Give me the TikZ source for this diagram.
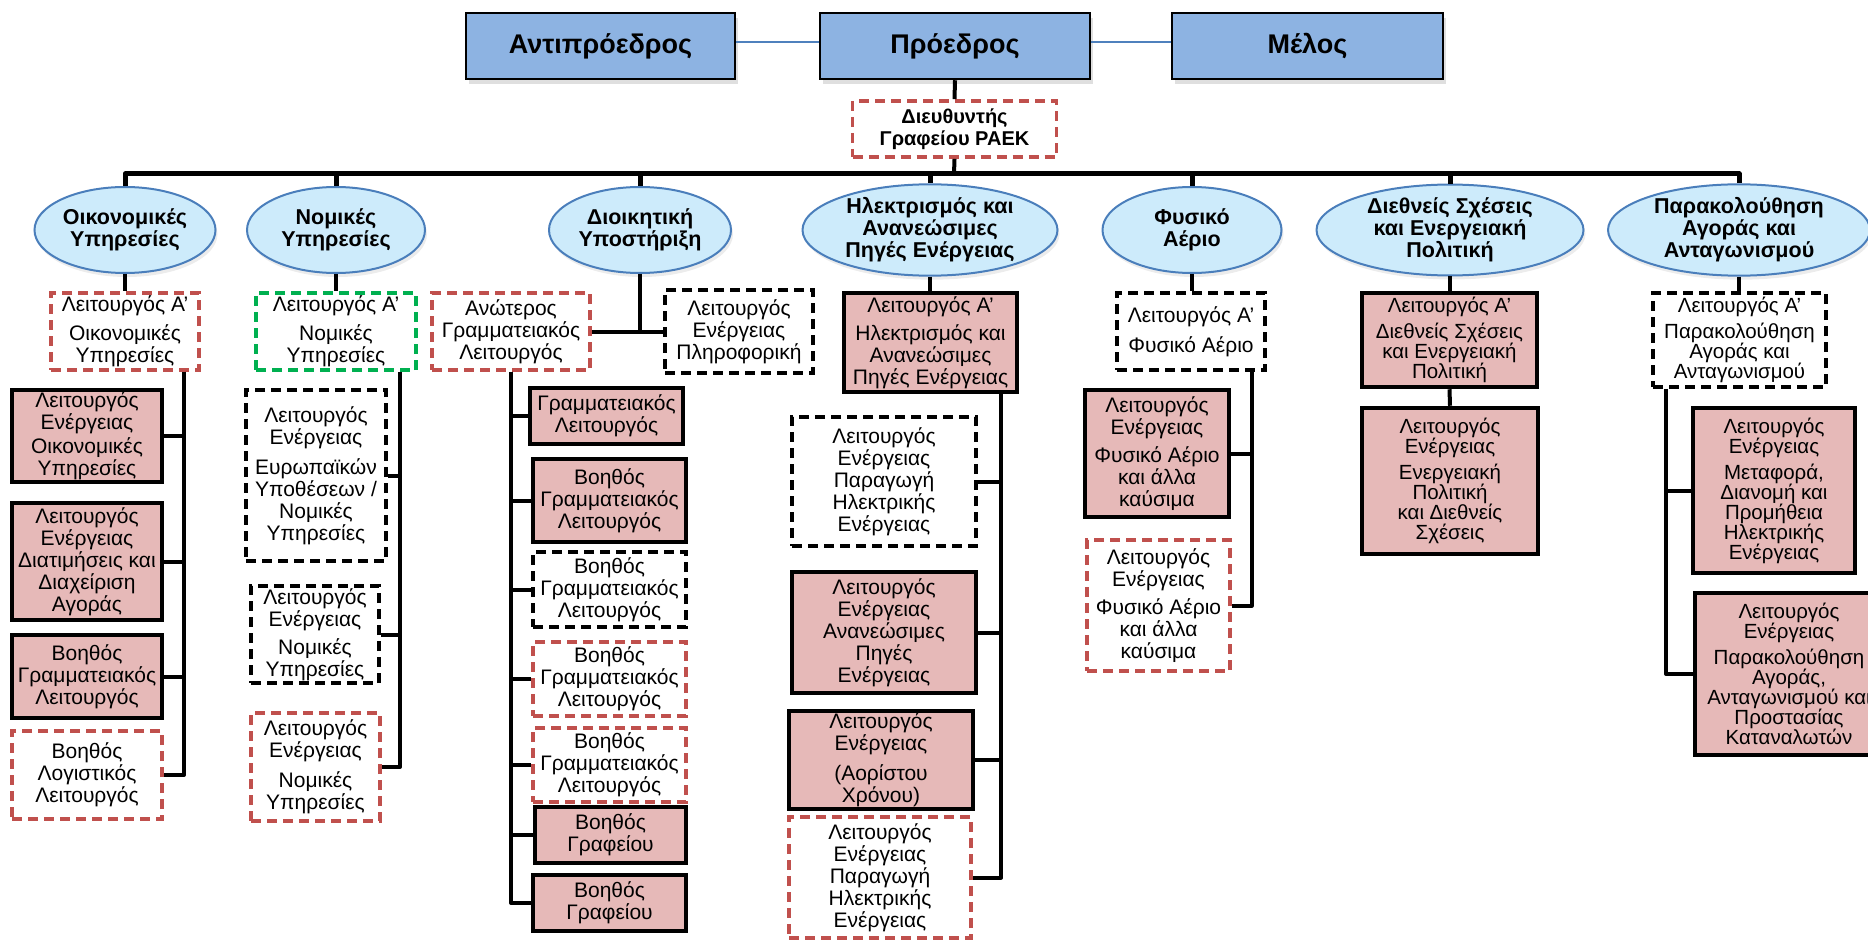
\documentclass[tikz,border=0pt]{standalone}
\usepackage{fontspec}
\setmainfont{Liberation Sans}
\usetikzlibrary{shapes.geometric,shadows}

\definecolor{headblue}{HTML}{8DB3E2}
\definecolor{ovalfill}{HTML}{CDEBFB}
\definecolor{ovalline}{HTML}{4A7EBB}
\definecolor{rosefill}{HTML}{E6B9B8}
\definecolor{dashred}{HTML}{C0504D}
\definecolor{dashgreen}{HTML}{00B050}
\definecolor{linkblue}{HTML}{4F81BD}

\begin{document}
\begin{tikzpicture}[x=1pt, y=-1pt,
  every node/.style = {align=center, inner sep=0pt, font=\fontsize{21}{22}\selectfont},
  wh/.style 2 args = {minimum width=#1pt, minimum height=#2pt},
  board/.style = {rectangle, draw, fill=headblue, line width=2.5pt,
    font=\fontsize{27}{30}\selectfont\bfseries,
    drop shadow={opacity=0.25, shadow xshift=3pt, shadow yshift=-5pt}},
  unit/.style = {ellipse, draw=ovalline, fill=ovalfill, line width=2pt,
    font=\fontsize{21.5}{22}\selectfont\bfseries,
    drop shadow={opacity=0.15, shadow xshift=2pt, shadow yshift=-4pt}},
  staffed/.style = {rectangle, draw, fill=rosefill, line width=4.5pt},
  vacant/.style = {rectangle, draw, line width=3.8pt, dash pattern=on 10pt off 6pt},
  planned/.style = {vacant, draw=dashred},
  legal/.style = {vacant, draw=dashgreen},
  arial/.style = {font=\fontsize{20.5}{20}\selectfont},
  link/.style = {line width=4pt, line join=round},
  boardlink/.style = {line width=1.5pt, draw=linkblue},
  ]
  \useasboundingbox (0,0) rectangle (1868,941);

  % board
  \node[board, wh={269}{66}] (antip) at (600.5,46) {Αντιπρόεδρος};
  \node[board, wh={270}{66}] (proed) at (955,46) {Πρόεδρος};
  \node[board, wh={271}{66}] (melos) at (1307.5,46) {Μέλος};
  \node[planned, wh={204}{56}, font=\fontsize{20}{22}\selectfont\bfseries]
    (director) at (954.5,129) {Διευθυντής\\Γραφείου ΡΑΕΚ};
  \coordinate (bus) at (954,174);

  % departments
  \node[unit, wh={181}{86}] (oik) at (125,230) {Οικονομικές\\Υπηρεσίες};
  \node[unit, wh={178}{86}] (nom) at (336,230) {Νομικές\\Υπηρεσίες};
  \node[unit, wh={182}{86}] (dioik) at (640,230) {Διοικητική\\Υποστήριξη};
  \node[unit, wh={255}{86}] (ilek) at (930,230) {Ηλεκτρισμός και\\Ανανεώσιμες\\Πηγές Ενέργειας};
  \node[unit, wh={179}{86}] (fys) at (1192,230) {Φυσικό\\Αέριο};
  \node[unit, wh={267}{86}] (dieth) at (1450,230) {Διεθνείς Σχέσεις\\και Ενεργειακή\\Πολιτική};
  \node[unit, wh={262}{86}] (parak) at (1739,230) {Παρακολούθηση\\Αγοράς και\\Ανταγωνισμού};

  % financial services
  \node[planned, wh={148}{77}] (oikA) at (125,331.5) {Λειτουργός Α’\\[7pt]Οικονομικές\\Υπηρεσίες};
  \node[staffed, wh={150}{92}] (oik1) at (87,436) {Λειτουργός\\Ενέργειας\\[2pt]Οικονομικές\\Υπηρεσίες};
  \node[staffed, wh={150}{117}] (oik2) at (87,561.5) {Λειτουργός\\Ενέργειας\\Διατιμήσεις και\\Διαχείριση\\Αγοράς};
  \node[staffed, wh={150}{83}] (oik3) at (87,676.5) {Βοηθός\\Γραμματειακός\\Λειτουργός};
  \node[planned, wh={150}{88}] (oik4) at (87,775) {Βοηθός\\Λογιστικός\\Λειτουργός};

  % legal services
  \node[legal, wh={160}{77}] (nomA) at (336,331.5) {Λειτουργός Α’\\[7pt]Νομικές\\Υπηρεσίες};
  \node[vacant, wh={140}{171}] (nom1) at (316,475.5) {Λειτουργός\\Ενέργειας\\[8pt]Ευρωπαϊκών\\Υποθέσεων /\\Νομικές\\Υπηρεσίες};
  \node[vacant, wh={128}{97}] (nom2) at (315,634.5) {Λειτουργός\\Ενέργειας\\[6pt]Νομικές\\Υπηρεσίες};
  \node[planned, wh={129}{108}] (nom3) at (315.5,767) {Λειτουργός\\Ενέργειας\\[8pt]Νομικές\\Υπηρεσίες};

  % administration
  \node[planned, wh={158}{77}] (anoteros) at (511,331.5) {Ανώτερος\\Γραμματειακός\\Λειτουργός};
  \node[vacant, wh={148}{83}] (plir) at (739,331.5) {Λειτουργός\\Ενέργειας\\Πληροφορική};
  \node[staffed, wh={153}{56}] (dio1) at (606.5,416) {Γραμματειακός\\Λειτουργός};
  \node[staffed, wh={153}{83}] (dio2) at (609.5,500.5) {Βοηθός\\Γραμματειακός\\Λειτουργός};
  \node[vacant, wh={153}{75}] (dio3) at (609.5,589.5) {Βοηθός\\Γραμματειακός\\Λειτουργός};
  \node[planned, wh={153}{74}] (dio4) at (609.5,679) {Βοηθός\\Γραμματειακός\\Λειτουργός};
  \node[planned, wh={153}{74}] (dio5) at (609.5,765) {Βοηθός\\Γραμματειακός\\Λειτουργός};
  \node[staffed, wh={151}{56}] (dio6) at (610.5,835) {Βοηθός\\Γραφείου};
  \node[staffed, wh={153}{56}] (dio7) at (609.5,903) {Βοηθός\\Γραφείου};

  % electricity and renewables
  \node[staffed, wh={173}{99}] (ilekA) at (930.5,342.5) {Λειτουργός Α’\\[6pt]Ηλεκτρισμός και\\Ανανεώσιμες\\Πηγές Ενέργειας};
  \node[vacant, wh={184}{129}] (ilek1) at (884,481.5) {Λειτουργός\\Ενέργειας\\Παραγωγή\\Ηλεκτρικής\\Ενέργειας};
  \node[staffed, wh={184}{121}] (ilek2) at (884,632.5) {Λειτουργός\\Ενέργειας\\Ανανεώσιμες\\Πηγές\\Ενέργειας};
  \node[staffed, wh={184}{98}] (ilek3) at (881,760) {Λειτουργός\\Ενέργειας\\[8pt](Αορίστου\\Χρόνου)};
  \node[planned, wh={182}{121}] (ilek4) at (880,877.5) {Λειτουργός\\Ενέργειας\\Παραγωγή\\Ηλεκτρικής\\Ενέργειας};

  % natural gas
  \node[vacant, wh={148}{77}] (fysA) at (1191,331.5) {Λειτουργός Α’\\[8pt]Φυσικό Αέριο};
  \node[staffed, wh={144}{127}] (fys1) at (1157,453.5) {Λειτουργός\\Ενέργειας\\[6pt]Φυσικό Αέριο\\και άλλα\\καύσιμα};
  \node[planned, wh={143}{131}] (fys2) at (1158.5,605.5) {Λειτουργός\\Ενέργειας\\[6pt]Φυσικό Αέριο\\και άλλα\\καύσιμα};

  % international relations
  \node[staffed, arial, wh={175}{94}] (diethA) at (1449.5,340) {Λειτουργός Α’\\[6pt]Διεθνείς Σχέσεις\\και Ενεργειακή\\Πολιτική};
  \node[staffed, arial, wh={176}{146}] (dieth1) at (1450,481) {Λειτουργός\\Ενέργειας\\[6pt]Ενεργειακή\\Πολιτική\\και Διεθνείς\\Σχέσεις};

  % market monitoring
  \node[vacant, arial, wh={173}{94}] (parakA) at (1739.5,340) {Λειτουργός Α’\\[6pt]Παρακολούθηση\\Αγοράς και\\Ανταγωνισμού};
  \node[staffed, arial, wh={162}{165}] (parak1) at (1774,490.5) {Λειτουργός\\Ενέργειας\\[6pt]Μεταφορά,\\Διανομή και\\Προμήθεια\\Ηλεκτρικής\\Ενέργειας};
  \node[staffed, arial, wh={188}{162}] (parak2) at (1789,674) {Λειτουργός\\Ενέργειας\\[6pt]Παρακολούθηση\\Αγοράς,\\Ανταγωνισμού και\\Προστασίας\\Καταναλωτών};

  % connectors
  \draw[boardlink] ([yshift=4pt]antip.east) -- ([yshift=4pt]proed.west);
  \draw[boardlink] ([yshift=4pt]proed.east) -- ([yshift=4pt]melos.west);
  \draw[link] (proed.south) -- (director.north);
  \draw[link] (director.south) -- (bus);
  \foreach \d in {oik,nom,dioik,ilek,fys,dieth,parak}
    \draw[link, line width=5pt] (bus) -| (\d.north);
  \foreach \d/\a in {oik/oikA,nom/nomA,ilek/ilekA,fys/fysA,dieth/diethA,parak/parakA}
    \draw[link] (\d.south) -- (\d.south |- \a.north);
  \draw[link] (dioik.south) |- (anoteros.east);
  \draw[link] (dioik.south) |- (plir.west);
  \draw[link] (diethA.south) -- (dieth1.north);
  \foreach \c in {oik1,oik2,oik3,oik4}
    \draw[link] ([xshift=-17pt]oikA.south east) |- (\c.east);
  \foreach \c in {nom1,nom2,nom3}
    \draw[link] ([xshift=-18pt]nomA.south east) |- (\c.east);
  \foreach \c in {dio1,dio2,dio3,dio4,dio5,dio6,dio7}
    \draw[link] (anoteros.south) |- (\c.west);
  \foreach \c in {ilek1,ilek2,ilek3,ilek4}
    \draw[link] ([xshift=-18pt]ilekA.south east) |- (\c.east);
  \foreach \c in {fys1,fys2}
    \draw[link] ([xshift=-15pt]fysA.south east) |- (\c.east);
  \foreach \c in {parak1,parak2}
    \draw[link] ([xshift=15pt]parakA.south west) |- (\c.west);
\end{tikzpicture}
\end{document}
